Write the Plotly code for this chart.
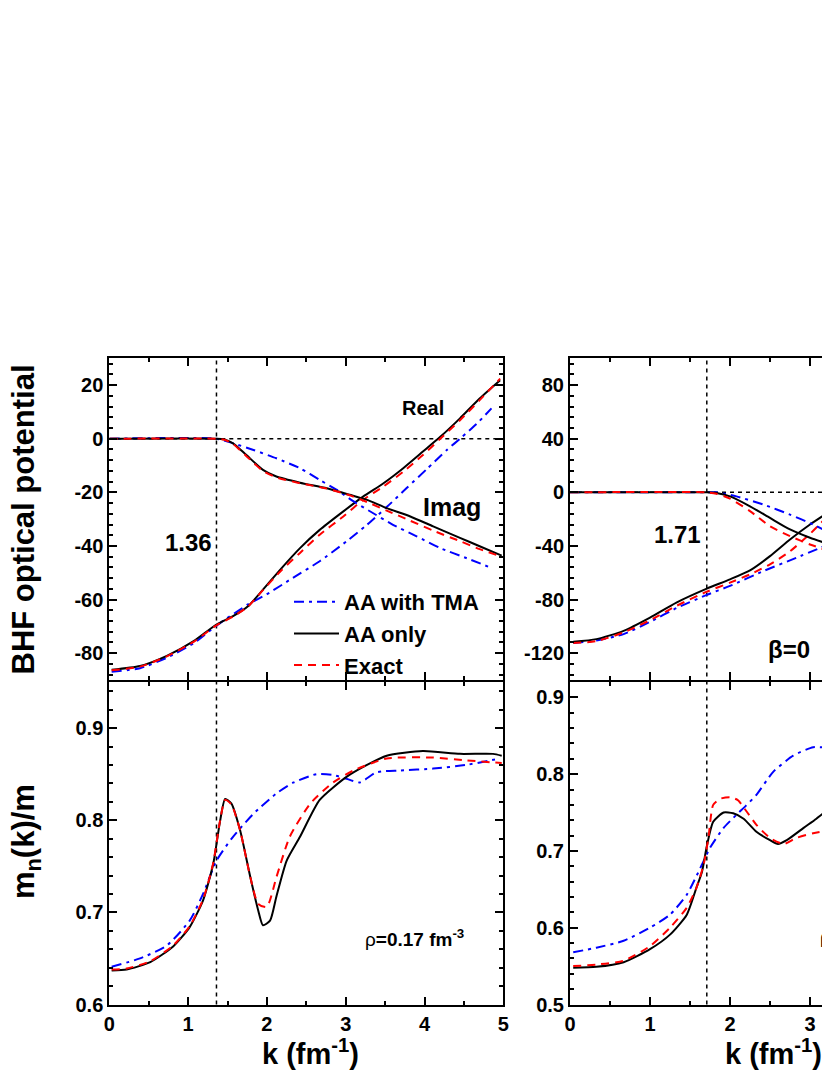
import plotly.graph_objects as go

# ---- data ---------------------------------------------------------------
kf_left = 1.36
kf_right = 1.71

# rho = 0.17 fm^-3 : real / imaginary parts of the BHF optical potential
k_re_tma = [0.03, 0.39, 0.73, 1.07, 1.36, 1.76, 2.0, 2.33, 2.67, 3.01, 3.27, 3.52, 3.77, 4.03, 4.28, 4.47, 4.66, 4.85]
re_tma = [-86.9, -85.6, -81.7, -76.3, -69.7, -61.8, -58.0, -51.9, -45.7, -38.3, -32.1, -25.5, -18.5, -11.3, -4.3, 0.5, 5.5, 11.3]
k_re_aa = [0.03, 0.39, 0.73, 1.07, 1.36, 1.57, 1.76, 1.95, 2.17, 2.42, 2.67, 2.97, 3.22, 3.48, 3.73, 3.98, 4.2, 4.45, 4.7, 4.96]
re_aa = [-86.2, -84.8, -81.0, -75.5, -69.3, -66.2, -62.5, -56.3, -48.8, -40.8, -34.0, -27.1, -21.6, -16.6, -11.0, -4.8, 0.7, 7.6, 15.0, 21.8]
k_re_ex = [0.03, 0.39, 0.73, 1.07, 1.36, 1.57, 1.76, 1.95, 2.17, 2.42, 2.67, 2.97, 3.22, 3.48, 3.73, 3.98, 4.2, 4.45, 4.7, 4.96]
re_ex = [-86.4, -85.0, -81.2, -75.8, -69.6, -66.4, -62.6, -56.5, -49.5, -42.6, -35.8, -29.0, -22.8, -17.8, -12.3, -6.1, 0.0, 6.9, 14.4, 22.4]

k_im_tma = [0.0, 1.36, 1.57, 1.83, 2.12, 2.42, 2.67, 2.89, 3.1, 3.35, 3.6, 3.9, 4.2, 4.53, 4.85]
im_tma = [0.0, 0.0, -1.7, -4.2, -7.3, -11.0, -15.4, -19.1, -23.4, -27.8, -32.1, -36.4, -40.8, -44.5, -48.2]
k_im_aa = [0.0, 1.36, 1.45, 1.57, 1.74, 1.95, 2.12, 2.42, 2.76, 3.05, 3.27, 3.52, 3.82, 4.11, 4.45, 4.7, 4.98]
im_aa = [0.0, 0.0, -0.2, -1.7, -6.1, -11.6, -14.1, -16.4, -18.5, -20.9, -22.8, -25.9, -29.0, -32.7, -37.0, -40.1, -43.6]
k_im_ex = [0.0, 1.36, 1.45, 1.57, 1.74, 1.95, 2.12, 2.42, 2.76, 3.05, 3.27, 3.52, 3.82, 4.11, 4.45, 4.7, 4.96]
im_ex = [0.0, 0.0, -0.3, -1.9, -6.5, -12.0, -14.4, -16.6, -18.6, -21.1, -23.6, -26.8, -30.6, -34.3, -38.2, -41.2, -43.8]

# rho = 0.17 fm^-3 : effective mass
k_m_tma = [0.03, 0.39, 0.73, 1.02, 1.19, 1.36, 1.57, 1.83, 2.12, 2.34, 2.63, 2.84, 3.01, 3.18, 3.39, 3.69, 4.11, 4.53, 4.96]
m_tma = [0.641, 0.650, 0.664, 0.691, 0.720, 0.756, 0.782, 0.807, 0.829, 0.841, 0.850, 0.849, 0.845, 0.841, 0.852, 0.854, 0.856, 0.860, 0.867]
k_m_aa = [0.03, 0.22, 0.52, 0.81, 1.02, 1.19, 1.32, 1.4, 1.47, 1.55, 1.66, 1.79, 1.89, 1.95, 2.04, 2.12, 2.25, 2.42, 2.67, 3.01, 3.27, 3.52, 3.98, 4.45, 4.87, 4.98]
m_aa = [0.637, 0.638, 0.646, 0.663, 0.684, 0.713, 0.753, 0.796, 0.823, 0.818, 0.789, 0.738, 0.702, 0.686, 0.691, 0.717, 0.756, 0.782, 0.822, 0.847, 0.860, 0.870, 0.875, 0.872, 0.872, 0.870]
k_m_ex = [0.03, 0.22, 0.52, 0.81, 1.02, 1.19, 1.32, 1.4, 1.47, 1.55, 1.66, 1.79, 1.89, 2.0, 2.12, 2.29, 2.55, 2.84, 3.1, 3.52, 4.11, 4.53, 4.98]
m_ex = [0.638, 0.639, 0.647, 0.664, 0.685, 0.714, 0.754, 0.797, 0.822, 0.817, 0.789, 0.738, 0.709, 0.706, 0.738, 0.782, 0.818, 0.841, 0.854, 0.867, 0.868, 0.865, 0.862]

# second density (beta = 0), right column
k2_re_tma = [0.04, 0.33, 0.67, 1.0, 1.33, 1.71, 2.0, 2.42, 2.83, 3.25]
re2_tma = [-112.4, -110.5, -105.8, -96.6, -86.4, -76.5, -69.8, -58.7, -48.8, -38.4]
k2_re_aa = [0.04, 0.33, 0.67, 1.0, 1.33, 1.71, 2.0, 2.25, 2.5, 2.75, 3.0, 3.25]
re2_aa = [-111.5, -109.5, -103.3, -93.4, -82.2, -71.8, -64.9, -58.2, -47.6, -35.2, -24.0, -14.1]
k2_re_ex = [0.04, 0.33, 0.67, 1.0, 1.33, 1.71, 2.0, 2.25, 2.5, 2.75, 3.0, 3.25]
re2_ex = [-112.4, -111.0, -104.5, -95.4, -84.7, -74.1, -67.4, -61.2, -53.7, -44.0, -31.0, -16.0]

k2_im_tma = [0.0, 1.71, 1.83, 2.08, 2.42, 2.75, 3.04, 3.25]
im2_tma = [0.0, 0.0, 0.0, -3.0, -9.2, -16.6, -24.0, -30.2]
k2_im_aa = [0.0, 1.71, 1.83, 2.0, 2.25, 2.5, 2.75, 3.0, 3.25]
im2_aa = [0.0, 0.0, -0.5, -3.0, -10.4, -19.1, -27.7, -33.9, -38.9]
k2_im_ex = [0.0, 1.71, 1.83, 2.0, 2.25, 2.5, 2.75, 3.0, 3.25]
im2_ex = [0.0, 0.0, -1.0, -4.7, -14.0, -25.3, -32.7, -38.9, -44.0]

k2_m_tma = [0.04, 0.33, 0.67, 1.0, 1.25, 1.46, 1.63, 1.75, 1.92, 2.08, 2.2, 2.33, 2.54, 2.79, 3.04, 3.25]
m2_tma = [0.568, 0.574, 0.583, 0.600, 0.617, 0.643, 0.678, 0.704, 0.730, 0.747, 0.759, 0.773, 0.803, 0.824, 0.835, 0.834]
k2_m_aa = [0.04, 0.33, 0.67, 1.0, 1.25, 1.46, 1.58, 1.65, 1.71, 1.79, 1.92, 2.04, 2.17, 2.33, 2.5, 2.6, 2.71, 2.92, 3.08, 3.25]
m2_aa = [0.548, 0.549, 0.555, 0.572, 0.591, 0.617, 0.652, 0.673, 0.706, 0.738, 0.750, 0.749, 0.742, 0.725, 0.714, 0.709, 0.714, 0.730, 0.742, 0.756]
k2_m_ex = [0.04, 0.33, 0.67, 1.0, 1.25, 1.46, 1.58, 1.67, 1.73, 1.79, 1.88, 2.0, 2.1, 2.21, 2.33, 2.5, 2.67, 2.83, 3.04, 3.25]
m2_ex = [0.550, 0.552, 0.557, 0.576, 0.600, 0.626, 0.652, 0.682, 0.717, 0.760, 0.768, 0.770, 0.766, 0.751, 0.734, 0.717, 0.709, 0.717, 0.723, 0.727]

# tick labels (plain hyphen minus, as in the figure)
yt_top_l = [-80, -60, -40, -20, 0, 20]
yt_top_l_txt = ['-80', '-60', '-40', '-20', '0', '20']
yt_top_r = [-120, -80, -40, 0, 40, 80]
yt_top_r_txt = ['-120', '-80', '-40', '0', '40', '80']
yt_bot_l = [0.6, 0.7, 0.8, 0.9]
yt_bot_r = [0.5, 0.6, 0.7, 0.8, 0.9]
xt = [0, 1, 2, 3, 4, 5]

names = ['AA with TMA', 'AA only', 'Exact']
colors = ['#0000ff', '#000000', '#ff0000']
dashes = ['10px,5px,3px,5px', 'solid', '8px,6px']

FONT = 'Liberation Sans, Arial, sans-serif'

# the page body keeps its default 8px margin, so the figure is 8px smaller
OFF = 8
W = 830 - OFF
H = 1075 - OFF


def px(x):   # page pixel -> paper x
    return (x - OFF) / W


def py(y):   # page pixel -> paper y
    return 1 - (y - OFF) / H


fig = go.Figure()

# axes: x/y top-left, x2/y2 bottom-left, x3/y3 top-right, x4/y4 bottom-right
panels = [
    ('x', 'y', [(k_re_tma, re_tma), (k_re_aa, re_aa), (k_re_ex, re_ex)],
     [(k_im_tma, im_tma), (k_im_aa, im_aa), (k_im_ex, im_ex)]),
    ('x2', 'y2', [(k_m_tma, m_tma), (k_m_aa, m_aa), (k_m_ex, m_ex)], []),
    ('x3', 'y3', [(k2_re_tma, re2_tma), (k2_re_aa, re2_aa), (k2_re_ex, re2_ex)],
     [(k2_im_tma, im2_tma), (k2_im_aa, im2_aa), (k2_im_ex, im2_ex)]),
    ('x4', 'y4', [(k2_m_tma, m2_tma), (k2_m_aa, m2_aa), (k2_m_ex, m2_ex)], []),
]

for pi, (xa, ya, first, second) in enumerate(panels):
    for group in (first, second):
        for i, (kk, vv) in enumerate(group):
            fig.add_trace(go.Scatter(
                x=kk, y=vv, xaxis=xa, yaxis=ya, mode='lines',
                name=names[i], legendgroup=names[i],
                showlegend=(pi == 0 and group is first),
                line=dict(color=colors[i], width=2, dash=dashes[i],
                          shape='spline', smoothing=0.6)))

# domains; the two rows meet on one shared 2px frame line
xl = [px(109.3), px(503.3)]
xr = [px(570.0), 1.0]
yt = [py(680.0), py(358.3)]
yb = [py(1004.5), py(682.0)]

tickfont = dict(family=FONT, size=20, color='black', weight='bold')


def xaxis(domain, anchor, rng, labels):
    return dict(domain=domain, anchor=anchor, range=rng, tickvals=xt,
                ticktext=[str(v) for v in xt], showticklabels=labels,
                ticks='inside', ticklen=8, tickwidth=1.5, tickcolor='black',
                minor=dict(ticks='inside', ticklen=4, dtick=0.5, tickwidth=1.5, tickcolor='black'),
                showline=True, linecolor='black', linewidth=2, mirror='allticks',
                showgrid=False, zeroline=False, tickfont=tickfont, automargin=False)


def yaxis(domain, anchor, rng, vals, txt, mdt, mirror):
    return dict(domain=domain, anchor=anchor, range=rng, tickvals=vals, ticktext=txt,
                ticks='inside', ticklen=8, tickwidth=1.5, tickcolor='black',
                minor=dict(ticks='inside', ticklen=4, dtick=mdt, tick0=0, tickwidth=1.5, tickcolor='black'),
                showline=True, linecolor='black', linewidth=2, mirror=mirror,
                showgrid=False, zeroline=False, tickfont=tickfont, automargin=False)


fig.update_layout(
    width=W, height=H,
    margin=dict(l=0, r=0, t=0, b=0, autoexpand=False),
    paper_bgcolor='white', plot_bgcolor='white',
    font=dict(family=FONT, color='black'),
    xaxis=xaxis(xl, 'y', [0, 5], False),
    yaxis=yaxis(yt, 'x', [-90, 30], yt_top_l, yt_top_l_txt, 4, 'allticks'),
    xaxis2=xaxis(xl, 'y2', [0, 5], True),
    yaxis2=yaxis(yb, 'x2', [0.6, 0.95], yt_bot_l, [str(v) for v in yt_bot_l], 0.02, 'allticks'),
    xaxis3=xaxis(xr, 'y3', [0, 3.25], False),
    yaxis3=yaxis(yt, 'x3', [-140, 100], yt_top_r, yt_top_r_txt, 8, False),
    xaxis4=xaxis(xr, 'y4', [0, 3.25], True),
    yaxis4=yaxis(yb, 'x4', [0.5, 0.92], yt_bot_r, [str(v) for v in yt_bot_r], 0.02, False),
    legend=dict(x=px(289), y=py(581), xanchor='left', yanchor='top',
                bgcolor='rgba(0,0,0,0)', tracegroupgap=0, itemwidth=45,
                font=dict(family=FONT, size=22, color='black', weight='bold')),
    showlegend=True,
)

# dashed reference lines: zero line and Fermi momentum
ref = dict(color='black', width=1.5, dash='4px,4px')
for xa, ya in (('x', 'y'), ('x3', 'y3')):
    fig.add_shape(type='line', xref=xa + ' domain', yref=ya, x0=0, x1=1, y0=0, y1=0,
                  line=ref, layer='below')
fig.add_shape(type='line', xref='x', yref='paper', x0=kf_left, x1=kf_left,
              y0=yb[0], y1=yt[1], line=ref, layer='below')
fig.add_shape(type='line', xref='x3', yref='paper', x0=kf_right, x1=kf_right,
              y0=yb[0], y1=yt[1], line=ref, layer='below')


def note(text, x, y, size, xref='paper', yref='paper', angle=0, xanchor='center'):
    fig.add_annotation(text=text, x=x, y=y, xref=xref, yref=yref, showarrow=False,
                       textangle=angle, xanchor=xanchor, yanchor='middle',
                       font=dict(family=FONT, size=size, color='black', weight='bold'))


note('BHF optical potential', px(22.5), py(520), 31, angle=-90)
note('m<sub>n</sub>(k)/m', px(26), py(842), 31, angle=-90)
note('k (fm<sup>-1</sup>)', px(310), py(1052), 29)
note('k (fm<sup>-1</sup>)', px(773), py(1052), 29)

note('Real', 3.98, 11.4, 20, 'x', 'y')
note('Imag', 4.35, -25.4, 25, 'x', 'y')
note(str(kf_left), 1.33, -38.7, 24, 'x', 'y', xanchor='right')
note(str(kf_right), 1.66, -31.5, 24, 'x3', 'y3', xanchor='right')
note('β=0', 2.74, -117, 24, 'x3', 'y3')
fig.add_annotation(text='ρ<b>=0.17 fm<sup>-3</sup></b>', x=3.22, y=0.672, xref='x2', yref='y2',
                   showarrow=False, xanchor='left', yanchor='middle',
                   font=dict(family=FONT, size=19, color='black'))
# only the start of the right-hand density label fits inside the picture
fig.add_annotation(text='ρ', x=3.1, y=0.588, xref='x4', yref='y4',
                   showarrow=False, xanchor='left', yanchor='middle',
                   font=dict(family=FONT, size=19, color='black'))

fig.write_html("out.html")
